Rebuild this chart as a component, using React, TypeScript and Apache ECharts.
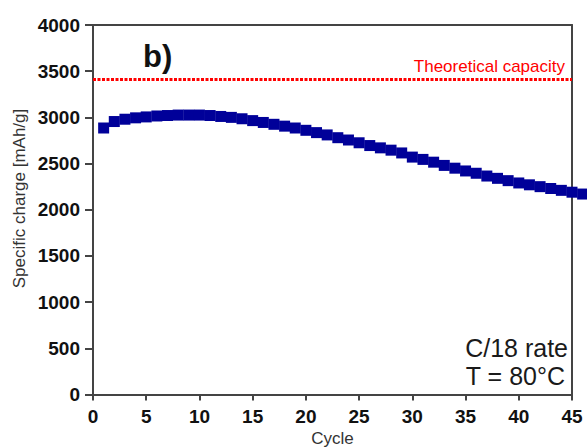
import React, { useEffect, useRef } from "react";
import * as echarts from "echarts";

const cycles: number[] = [
  1, 2, 3, 4, 5, 6, 7, 8, 9, 10, 11, 12, 13, 14, 15, 16, 17, 18, 19, 20, 21, 22, 23,
  24, 25, 26, 27, 28, 29, 30, 31, 32, 33, 34, 35, 36, 37, 38, 39, 40, 41, 42, 43, 44, 45, 46,
];
const charge: number[] = [
  2885, 2955, 2980, 2995, 3005, 3015, 3020, 3025, 3025, 3025, 3020, 3010, 3000, 2985, 2965,
  2945, 2925, 2905, 2885, 2860, 2835, 2810, 2780, 2755, 2725, 2695, 2670, 2645, 2615, 2570,
  2545, 2515, 2480, 2450, 2420, 2395, 2365, 2340, 2315, 2290, 2270, 2250, 2230, 2210, 2190, 2170,
];
const theoreticalCapacity = 3410;
const xTicks = { min: 0, max: 45, interval: 5 };
const yTicks = { min: 0, max: 4000, interval: 500 };

const FONT = "'Liberation Sans', Arial, sans-serif";

export default function App() {
  const ref = useRef<HTMLDivElement>(null);
  useEffect(() => {
    if (!ref.current) return;
    const chart = echarts.init(ref.current, null, { renderer: "svg" });
    const axisLineStyle = { color: "#444", width: 2 };
    const plain = (v: number) => String(v);
    chart.setOption({
      animation: false,
      backgroundColor: "#ffffff",
      grid: {
        left: 93,
        right: 15,
        top: 25,
        bottom: 53.5,
        containLabel: false,
        outerBoundsMode: "none",
      },
      xAxis: [
        {
          type: "value",
          min: xTicks.min,
          max: xTicks.max,
          interval: xTicks.interval,
          name: "Cycle",
          nameLocation: "middle",
          nameGap: 34,
          nameTextStyle: { fontFamily: FONT, fontSize: 17, color: "#333" },
          axisLine: { show: true, onZero: false, lineStyle: axisLineStyle },
          axisTick: { show: true, length: 6, lineStyle: axisLineStyle },
          axisLabel: {
            fontFamily: FONT,
            fontSize: 19,
            fontWeight: "bold",
            color: "#111",
            margin: 12,
            formatter: plain,
          },
          splitLine: { show: false },
        },
        {
          type: "value",
          position: "top",
          min: xTicks.min,
          max: xTicks.max,
          interval: xTicks.interval,
          axisLine: { show: true, onZero: false, lineStyle: axisLineStyle },
          axisTick: { show: false },
          axisLabel: { show: false },
          splitLine: { show: false },
        },
      ],
      yAxis: [
        {
          type: "value",
          min: yTicks.min,
          max: yTicks.max,
          interval: yTicks.interval,
          axisLine: { show: true, onZero: false, lineStyle: axisLineStyle },
          axisTick: { show: true, length: 8, lineStyle: axisLineStyle },
          axisLabel: {
            fontFamily: FONT,
            fontSize: 19,
            fontWeight: "bold",
            color: "#111",
            margin: 13,
            formatter: plain,
          },
          splitLine: { show: false },
        },
        {
          type: "value",
          position: "right",
          min: yTicks.min,
          max: yTicks.max,
          interval: yTicks.interval,
          axisLine: { show: true, onZero: false, lineStyle: axisLineStyle },
          axisTick: { show: false },
          axisLabel: { show: false },
          splitLine: { show: false },
        },
      ],
      series: [
        {
          type: "scatter",
          clip: false,
          symbol: "rect",
          symbolSize: 11,
          itemStyle: { color: "#000099", opacity: 1 },
          data: cycles.map((c, i) => [c, charge[i]]),
          markLine: {
            silent: true,
            symbol: "none",
            label: { show: false },
            lineStyle: { color: "#ff0000", width: 3, type: [3, 1.5], opacity: 1 },
            data: [{ yAxis: theoreticalCapacity }],
          },
          z: 3,
        },
      ],
      graphic: [
        {
          type: "text",
          x: 19,
          y: 198.5,
          rotation: Math.PI / 2,
          style: {
            text: "Specific charge [mAh/g]",
            font: `17px ${FONT}`,
            fill: "#333",
            align: "center",
            verticalAlign: "middle",
          },
        },
        {
          type: "text",
          x: 143,
          y: 56.5,
          style: {
            text: "b)",
            font: `bold 31px ${FONT}`,
            fill: "#111",
            align: "left",
            verticalAlign: "middle",
          },
        },
        {
          type: "text",
          x: 565,
          y: 66,
          style: {
            text: "Theoretical capacity",
            font: `17px ${FONT}`,
            fill: "#ff0000",
            align: "right",
            verticalAlign: "middle",
          },
        },
        {
          type: "text",
          x: 568,
          y: 347.5,
          style: {
            text: "C/18 rate",
            font: `25px ${FONT}`,
            fill: "#1a1a1a",
            align: "right",
            verticalAlign: "middle",
          },
        },
        {
          type: "text",
          x: 565,
          y: 376,
          style: {
            text: "T = 80°C",
            font: `25px ${FONT}`,
            fill: "#1a1a1a",
            align: "right",
            verticalAlign: "middle",
          },
        },
      ],
    });
    return () => chart.dispose();
  }, []);
  return (
    <div
      ref={ref}
      style={{ position: "absolute", left: 0, top: 0, width: 587, height: 448 }}
    />
  );
}
